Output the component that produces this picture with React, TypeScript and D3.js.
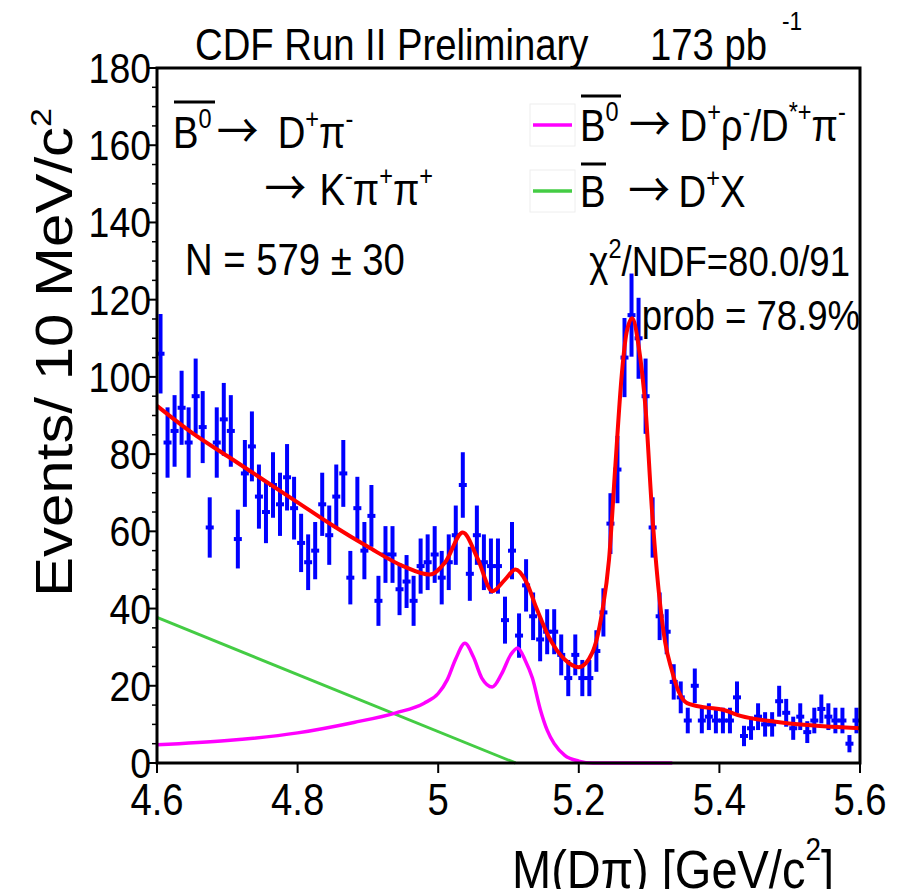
import React from "react";
import * as d3 from "d3";

// ---- data ----
const massLow = 4.6;
const binWidth = 0.01;
const counts = [
  106, 83, 86, 92, 83, 95, 87, 61, 83, 89,
  86, 58, 75, 82, 69, 65, 72, 67, 74, 66,
  57, 52, 55, 67, 59, 69, 75, 48, 66, 55,
  64, 42, 54, 54, 45, 47, 42, 51, 52, 54,
  48, 52, 59, 72, 49, 59, 52, 51, 51, 37,
  55, 33, 46, 38, 32, 34, 34, 28, 22, 28,
  22, 22, 29, 39, 62, 76, 105, 116, 110, 95,
  61, 38, 34, 21, 17, 11, 20, 11, 12, 11,
  11, 11, 17, 7, 9, 12, 10, 10, 16, 13,
  9, 12, 8, 11, 14, 12, 11, 11, 5, 11,
];

const fitMass = [4.6, 4.65, 4.7, 4.75, 4.8, 4.85, 4.9, 4.95, 4.988, 5.01, 5.035, 5.056, 5.077, 5.095, 5.11, 5.125, 5.14, 5.157, 5.18, 5.2, 5.219, 5.233, 5.243, 5.252, 5.261, 5.268, 5.276, 5.285, 5.295, 5.304, 5.314, 5.323, 5.332, 5.342, 5.354, 5.38, 5.405, 5.43, 5.48, 5.52, 5.56, 5.6];
const fitValue = [92.5, 85.5, 79.5, 73.5, 67.5, 61.5, 56, 51, 48.8, 52, 59.7, 53, 44.5, 47.5, 50.1, 47, 40, 32.8, 26.8, 24.8, 28.5, 38.9, 52.7, 77, 100.3, 111.5, 115.2, 108.1, 91.7, 65.7, 44, 31.1, 24.2, 18.5, 15.5, 14.4, 13.8, 12.2, 10.7, 9.9, 9.4, 9];

const reflMass = [4.6, 4.7, 4.8, 4.88, 4.94, 4.98, 5.0, 5.013, 5.025, 5.038, 5.05, 5.062, 5.077, 5.09, 5.103, 5.113, 5.124, 5.134, 5.145, 5.155, 5.165, 5.18, 5.2, 5.22, 5.333];
const reflValue = [4.7, 5.8, 7.8, 10.5, 13, 15.5, 18, 21.6, 27, 31, 27.5, 22, 19.7, 23, 28, 29.8, 26.5, 22, 14, 8.5, 5, 2, 0.5, 0, 0];

const inclMass = [4.6, 5.11];
const inclValue = [37.7, 0];

const xTickValues = [4.6, 4.8, 5.0, 5.2, 5.4, 5.6];
const xTickLabels = ["4.6", "4.8", "5", "5.2", "5.4", "5.6"];
const yTickValues = [0, 20, 40, 60, 80, 100, 120, 140, 160, 180];
const yTickLabels = ["0", "20", "40", "60", "80", "100", "120", "140", "160", "180"];

// ---- layout ----
const W = 904;
const H = 889;
const L = 157;
const R = 860;
const TOP = 68;
const BOT = 763;
const FONT = "'Liberation Sans', Arial, Helvetica, sans-serif";
const ARROW_FONT = "'Noto Sans CJK JP', 'Noto Sans CJK SC', 'DejaVu Sans', sans-serif";
const SX = 0.87;

function T({ x, y, size = 44, anchor = "start", rotate = false, children }: any) {
  const tr = rotate
    ? `translate(${x},${y}) scale(${SX},1) rotate(-90)`
    : `translate(${x},${y}) scale(${SX},1)`;
  return (
    <g transform={tr}>
      <text x={0} y={0} fontSize={size} textAnchor={anchor} fontFamily={FONT} fill="#000">
        {children}
      </text>
    </g>
  );
}

const SUP = 27;

function Arrow({ dx = 0, dy = 0 }: any) {
  return (
    <tspan dx={dx} dy={dy} fontFamily={ARROW_FONT} fontSize={48}>
      →
    </tspan>
  );
}

export default function App() {
  const x = d3.scaleLinear().domain([4.6, 5.6]).range([L, R]);
  const y = d3.scaleLinear().domain([0, 180]).range([BOT, TOP]);

  const line = d3
    .line<[number, number]>()
    .x((d) => x(d[0]))
    .y((d) => y(d[1]))
    .curve(d3.curveMonotoneX);

  const fitPts = fitMass.map((m, i) => [m, fitValue[i]] as [number, number]);
  const reflPts = reflMass.map((m, i) => [m, reflValue[i]] as [number, number]);
  const inclPts = inclMass.map((m, i) => [m, inclValue[i]] as [number, number]);

  const minorY = d3.range(0, 181, 5).filter((v) => v % 20 !== 0);

  return (
    <svg width={W} height={H} style={{ position: "absolute", left: 0, top: 0, background: "#fff" }}>
      <rect x={0} y={0} width={W} height={H} fill="#fff" />

      {/* data points */}
      <g stroke="#0000ff" strokeWidth={4}>
        {counts.map((c, i) => {
          const m = massLow + binWidth * (i + 0.5);
          const e = Math.sqrt(c);
          const cx = x(m);
          return (
            <g key={i}>
              <line x1={cx} x2={cx} y1={y(c + e)} y2={y(Math.max(0, c - e))} />
              <line x1={cx - 4} x2={cx + 4} y1={y(c)} y2={y(c)} strokeWidth={4} />
            </g>
          );
        })}
      </g>

      <path d={line(inclPts) || ""} fill="none" stroke="#44cc44" strokeWidth={3} />
      <path d={line(reflPts) || ""} fill="none" stroke="#ff00ff" strokeWidth={3.5} />
      <path d={line(fitPts) || ""} fill="none" stroke="#ff0000" strokeWidth={4} />

      {/* frame */}
      <rect x={L} y={TOP} width={R - L} height={BOT - TOP} fill="none" stroke="#000" strokeWidth={3} />

      {/* y axis ticks */}
      {yTickValues.map((v, i) => (
        <g key={"y" + v}>
          <line x1={L - 10} x2={L} y1={y(v)} y2={y(v)} stroke="#000" strokeWidth={2} />
          <T x={L - 6} y={y(v) + 15} size={43} anchor="end">{yTickLabels[i]}</T>
        </g>
      ))}
      {minorY.map((v) => (
        <line key={"m" + v} x1={L - 5} x2={L} y1={y(v)} y2={y(v)} stroke="#000" strokeWidth={1.5} />
      ))}

      {/* x axis ticks */}
      {xTickValues.map((v, i) => (
        <g key={"x" + v}>
          <line x1={x(v)} x2={x(v)} y1={BOT} y2={BOT + 10} stroke="#000" strokeWidth={2} />
          <T x={x(v)} y={815} size={44} anchor="middle">{xTickLabels[i]}</T>
        </g>
      ))}

      {/* axis titles */}
      <T x={72} y={597} size={60} rotate>
        Events/ 10 MeV/c<tspan dy={-24} fontSize={34}>2</tspan>
      </T>
      <T x={512} y={888} size={54}>
        M(Dπ) [GeV/c<tspan dy={-28} fontSize={32}>2</tspan><tspan dy={28}>]</tspan>
      </T>

      {/* header */}
      <T x={195} y={60} size={44}>CDF Run II Preliminary</T>
      <T x={650} y={60} size={44}>173 pb</T>
      <T x={782} y={30} size={26}>-1</T>

      {/* left annotations */}
      <T x={173} y={148} size={44}>
        B<tspan dy={-20} fontSize={SUP}>0</tspan><Arrow dy={20} dx={6} />
        <tspan dx={22}>D</tspan>
        <tspan dy={-20} fontSize={SUP}>+</tspan><tspan dy={20}>π</tspan>
        <tspan dy={-20} fontSize={SUP}>-</tspan>
      </T>
      <line x1={174} x2={215} y1={102} y2={102} stroke="#000" strokeWidth={3} />
      <T x={262} y={205} size={44}>
        <Arrow dx={3} /><tspan dx={15}>K</tspan><tspan dy={-20} fontSize={SUP}>-</tspan><tspan dy={20}>π</tspan>
        <tspan dy={-20} fontSize={SUP}>+</tspan><tspan dy={20}>π</tspan>
        <tspan dy={-20} fontSize={SUP}>+</tspan>
      </T>
      <T x={185} y={275} size={44}>N = 579 ± 30</T>

      {/* legend */}
      <rect x={530} y={104} width={45} height={42} fill="none" stroke="#eeeeee" strokeWidth={1} />
      <rect x={530} y={170} width={45} height={42} fill="none" stroke="#eeeeee" strokeWidth={1} />
      <line x1={533} x2={572} y1={125} y2={125} stroke="#ff00ff" strokeWidth={3.5} />
      <line x1={533} x2={572} y1={191} y2={191} stroke="#44cc44" strokeWidth={3.5} />
      <T x={580} y={141} size={44}>
        B<tspan dy={-20} fontSize={SUP}>0</tspan><Arrow dy={20} dx={12} /><tspan dx={10}>D</tspan>
        <tspan dy={-20} fontSize={SUP}>+</tspan><tspan dy={20}>ρ</tspan>
        <tspan dy={-20} fontSize={SUP}>-</tspan><tspan dy={20}>/D</tspan>
        <tspan dy={-20} fontSize={SUP}>*+</tspan><tspan dy={20}>π</tspan>
        <tspan dy={-20} fontSize={SUP}>-</tspan>
      </T>
      <line x1={581} x2={621} y1={96} y2={96} stroke="#000" strokeWidth={3} />
      <T x={580} y={207} size={44}>
        <tspan>B</tspan><Arrow dx={26} /><tspan dx={10}>D</tspan><tspan dy={-20} fontSize={SUP}>+</tspan><tspan dy={20}>X</tspan>
      </T>
      <line x1={581} x2={606} y1={164} y2={164} stroke="#000" strokeWidth={3} />

      {/* fit info */}
      <T x={850} y={276} size={42} anchor="end">
        χ<tspan dy={-18} fontSize={SUP}>2</tspan><tspan dy={18}>/NDF=80.0/91</tspan>
      </T>
      <T x={860} y={330} size={42} anchor="end">prob = 78.9%</T>
    </svg>
  );
}
